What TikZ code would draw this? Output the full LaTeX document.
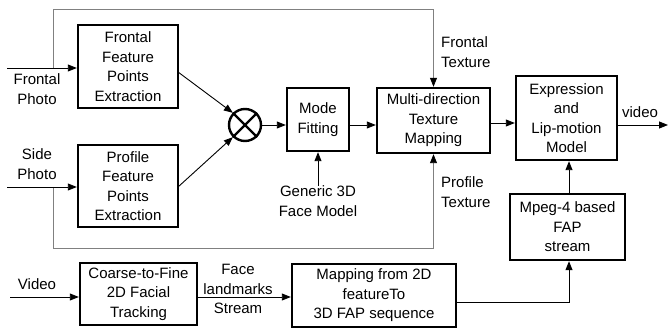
\documentclass[tikz,border=0pt]{standalone}
\usepackage{fontspec}
\setmainfont{Liberation Sans}
\usetikzlibrary{arrows.meta}
\begin{document}
\begin{tikzpicture}[x=1pt,y=-1pt,
  font=\fontsize{15}{19.5}\selectfont,
  blk/.style={draw,line width=2.4pt,align=center,inner sep=0pt},
  lbl/.style={align=center,inner sep=0pt},
  conn/.style={line width=0.9pt,-{Triangle[length=9pt,width=7pt]}},
  loopl/.style={line width=0.9pt,draw=black!50,-{Triangle[length=9pt,width=7pt,color=black]}}]
\useasboundingbox (0,0) rectangle (668,328);
% boxes
\node[blk,minimum width=100pt,minimum height=83pt] (ff) at (128,66.5) {Frontal\\Feature\\Points\\Extraction};
\node[blk,minimum width=100pt,minimum height=82pt] (pf) at (128,186) {Profile\\Feature\\Points\\Extraction};
\node[draw,circle,line width=2.4pt,minimum size=32pt,inner sep=0pt] (ot) at (245,125) {};
\draw[line width=2.4pt] (ot.north west) -- (ot.south east) (ot.north east) -- (ot.south west);
\node[blk,minimum width=62pt,minimum height=63pt] (mf) at (318,119.5) {Mode\\Fitting};
\node[blk,minimum width=113pt,minimum height=65pt] (md) at (433.5,120.5) {Multi-direction\\Texture\\Mapping};
\node[blk,minimum width=101pt,minimum height=84pt] (ex) at (566.5,118) {Expression\\and\\Lip-motion\\Model};
\node[blk,minimum width=115pt,minimum height=66pt] (mp) at (567.5,227) {Mpeg-4 based\\FAP\\stream};
\node[blk,minimum width=164pt,minimum height=63pt] (mb) at (374,295.5) {Mapping from 2D\\featureTo\\3D FAP sequence};
\node[blk,minimum width=117pt,minimum height=62pt] (ct) at (138.5,294) {Coarse-to-Fine\\2D Facial\\Tracking};
% labels
\node[lbl] (lfp) at (37,89) {Frontal\\Photo};
\node[lbl] (lsp) at (37,164) {Side\\Photo};
\node[lbl] (lvi) at (37,284) {Video};
\node[lbl,align=left,anchor=west] (lft) at (441,52) {Frontal\\Texture};
\node[lbl,align=left,anchor=west] (lpt) at (441,192) {Profile\\Texture};
\node[lbl] (lvo) at (640,112) {video};
\node[lbl] (lg) at (318,201) {Generic 3D\\Face Model};
\node[lbl] (lfl) at (238,289) {Face\\landmarks\\Stream};
% coordinates
\coordinate (fin) at (7,68);
\coordinate (fbr) at (53,68);
\coordinate (sin) at (7,187);
\coordinate (sbr) at (53,187);
\coordinate (vin) at (10,297);
\coordinate (vout) at (668,125);
\coordinate (ffo) at (178,72);
\coordinate (pfo) at (178,187);
\coordinate (mpc) at (569,302);
% loops
\draw[loopl] (fbr) -- (53,9) -- (md.north |- 0,9) -- (md.north);
\draw[loopl] (sbr) -- (53,248) -- (md.south |- 0,248) -- (md.south);
% connectors
\draw[conn] (fin) -- (fin -| ff.west);
\draw[conn] (sin) -- (sin -| pf.west);
\draw[conn] (ffo) -- (ot.north west);
\draw[conn] (pfo) -- (ot.south west);
\draw[conn] (ot.east) -- (ot.east -| mf.west);
\draw[conn] (mf.east |- ot.east) -- (ot.east -| md.west);
\draw[conn] (md.east |- 0,123) -- (ex.west |- 0,123);
\draw[conn] (ex.east |- vout) -- (vout);
\draw[conn] (lg.north) -- (mf.south);
\draw[conn] (mp.north -| mpc) -- (ex.south -| mpc);
\draw[conn] (mb.east |- mpc) -- (mpc) -- (mp.south -| mpc);
\draw[conn] (vin) -- (vin -| ct.west);
\draw[conn] (ct.east |- vin) -- (mb.west |- vin);
\end{tikzpicture}
\end{document}
